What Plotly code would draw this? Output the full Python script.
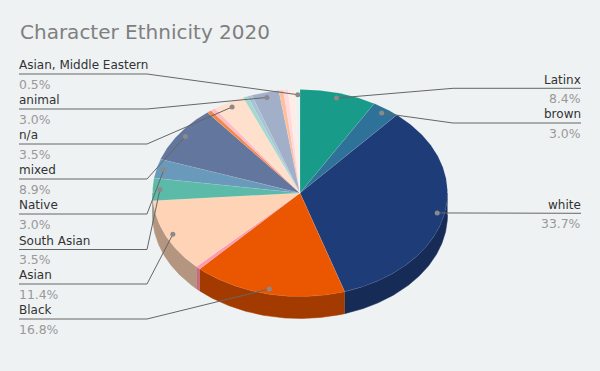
import math
import plotly.graph_objects as go

# ---- data ----
slice_names = ["Latinx", "brown", "white", "Black", "", "Asian", "South Asian", "Native", "mixed",
               "", "", "n/a", "", "", "animal", "", "", "", "Asian, Middle Eastern"]
slice_values = [8.4, 3.0, 33.7, 16.8, 0.5, 11.4, 3.5, 3.0, 8.9,
                0.5, 0.5, 3.5, 0.5, 0.5, 3.0, 0.5, 0.5, 0.8, 0.5]
top_colors = ["#189B89", "#2E7199", "#1E3D78", "#EB5600", "#FF9AAE", "#FFD3B6", "#5CBAA9", "#6A9ABB", "#62769E",
              "#F58847", "#FFBBC8", "#FFE0CC", "#A5D8CF", "#A6C4D6", "#A2AFC8", "#FFBF9C", "#FFD8E0", "#FFEDE5", "#E8F3F3"]
side_colors = ["#116B5F", "#20506C", "#172B57", "#A33B00", "#C26E80", "#B39580", "#7B9F98", "#4E7490", "#485875",
               "#AC5F32", "#B3838C", "#B39D8F", "#749791", "#748996", "#717B8C", "#B3866D", "#B3979D", "#B3A6A0", "#A2AAAA"]
title_text = "Character Ethnicity 2020"

# label rows: name -> underline position
left_rows = {"Asian, Middle Eastern": 74, "animal": 109, "n/a": 144, "mixed": 179,
             "Native": 214, "South Asian": 249.5, "Asian": 284, "Black": 319}
right_rows = {"Latinx": 88.3, "brown": 123, "white": 213.3}

# ---- layout constants ----
W, H = 600, 371
CX, CY, RX, RY, DEPTH = 300, 193, 147.5, 103.5, 22
BG = "#EEF2F3"
LINE = "#666666"
TEXT = "#333333"
PCT = "#999999"
FONT = "DejaVu Sans"


def pt(deg, k=1.0, dy=0.0):
    a = math.radians(deg)
    return CX + RX * k * math.sin(a), CY - RY * k * math.cos(a) + dy


def arc(a0, a1, dy=0.0):
    n = max(2, int(abs(a1 - a0) * 2) + 1)
    return [pt(a0 + (a1 - a0) * i / (n - 1), dy=dy) for i in range(n)]


fig = go.Figure()


def poly(points, color, line=None):
    fig.add_trace(go.Scatter(
        x=[p[0] for p in points], y=[p[1] for p in points],
        mode="lines", fill="toself", fillcolor=color,
        line=dict(color=line or color, width=0.5),
        hoverinfo="skip", showlegend=False))


angles = []
acc = 0.0
for v in slice_values:
    angles.append((acc * 3.6, (acc + v) * 3.6))
    acc += v

# side walls (only the front half of the rim shows)
for (a0, a1), c in zip(angles, side_colors):
    lo, hi = max(a0, 90), min(a1, 270)
    if hi > lo:
        poly(arc(lo, hi) + arc(hi, lo, dy=DEPTH), c)

# top faces
for (a0, a1), c in zip(angles, top_colors):
    poly([(CX, CY)] + arc(a0, a1) + [(CX, CY)], c, line="rgba(255,255,255,0.18)")

# leaders and labels
annotations = []


def add_label(x, underline, name, pct, anchor):
    annotations.append(dict(x=x, y=underline - 8.6, text=name, showarrow=False, xanchor=anchor, yanchor="middle",
                            xref="x", yref="y", font=dict(family=FONT, size=12, color=TEXT)))
    annotations.append(dict(x=x, y=underline + 10.4, text=pct, showarrow=False, xanchor=anchor, yanchor="middle",
                            xref="x", yref="y", font=dict(family=FONT, size=12.4, color=PCT)))


for name, v, (a0, a1) in zip(slice_names, slice_values, angles):
    if not name:
        continue
    ax, ay = pt((a0 + a1) / 2, k=0.95)
    pct = f"{v:.1f}%"
    if name in left_rows:
        y = left_rows[name]
        xs, ys = [19, 147, ax], [y, y, ay]
        add_label(17, y, name, pct, "left")
    else:
        y = right_rows[name]
        xs, ys = [581, 453, ax], [y, y, ay]
        add_label(582.5, y, name, pct, "right")
    fig.add_trace(go.Scatter(x=xs, y=ys, mode="lines", line=dict(color=LINE, width=1),
                             hoverinfo="skip", showlegend=False))
    fig.add_trace(go.Scatter(x=[ax], y=[ay], mode="markers", marker=dict(color="#8A8A8A", size=5),
                             hoverinfo="skip", showlegend=False))

annotations.append(dict(x=17.5, y=32, text=title_text, showarrow=False, xanchor="left", yanchor="middle",
                        xref="x", yref="y", font=dict(family=FONT, size=20, color="#7F7F7F")))

fig.update_layout(
    width=W, height=H, margin=dict(l=0, r=0, t=0, b=0),
    paper_bgcolor=BG, plot_bgcolor=BG, showlegend=False,
    xaxis=dict(range=[0, W], visible=False, fixedrange=True),
    yaxis=dict(range=[H, 0], visible=False, fixedrange=True),
    annotations=annotations,
)
fig.write_html("out.html", config=dict(displayModeBar=False),
               post_script="document.body.style.margin='0';document.body.style.overflow='hidden';")
